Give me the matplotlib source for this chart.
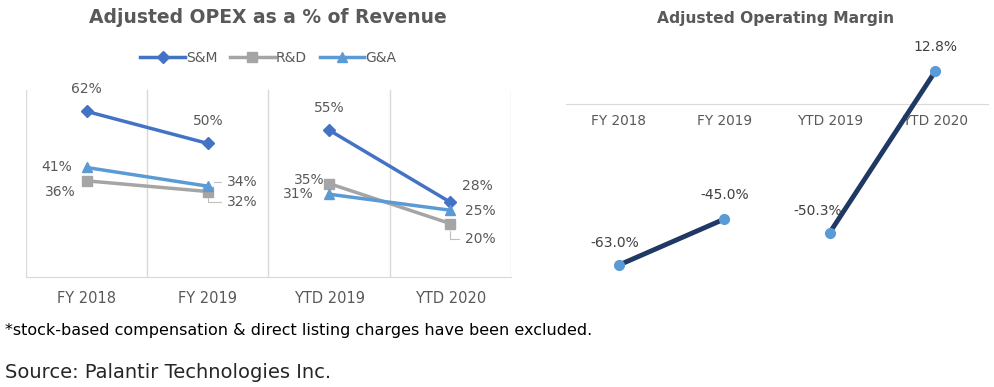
import numpy as np
import matplotlib
matplotlib.use('Agg')
import matplotlib.pyplot as plt

plt.rcParams['font.family'] = ['DejaVu Sans']

# data
periods = ['FY 2018', 'FY 2019', 'YTD 2019', 'YTD 2020']
sm = [62, 50, 55, 28]
rd = [36, 32, 35, 20]
ga = [41, 34, 31, 25]
margin = [-63.0, -45.0, -50.3, 12.8]

txt = '#595959'
grid = '#D9D9D9'

fig = plt.figure(figsize=(9.95, 3.87), dpi=100)

# ---------- left chart ----------
ax = fig.add_axes([0.0261, 0.2842, 0.4874, 0.4832])
x = np.arange(len(periods))
series = [('S&M', sm, '#4472C4', 'D', 6),
          ('R&D', rd, '#A5A5A5', 's', 7),
          ('G&A', ga, '#5B9BD5', '^', 7)]
for name, vals, col, mk, ms in series:
    # two separate pairs: full years, then year-to-date
    ax.plot(x[:2], vals[:2], color=col, lw=2.5, marker=mk, ms=ms, label=name, zorder=3)
    ax.plot(x[2:], vals[2:], color=col, lw=2.5, marker=mk, ms=ms, zorder=3)

ax.set_xlim(-0.5, 3.5)
ax.set_ylim(0, 70)
for b in [-0.5, 0.5, 1.5, 2.5, 3.5]:
    ax.axvline(b, color=grid, lw=1, zorder=1)
for s in ['top', 'left', 'right']:
    ax.spines[s].set_visible(False)
ax.spines['bottom'].set_color(grid)
ax.set_yticks([])
ax.set_xticks(x)
ax.set_xticklabels(periods, fontsize=10.5, color=txt)
ax.tick_params(axis='x', length=0, pad=10)

# data labels: (series, x index, dx, dy, leader line) in pixels
left_labels = [
    (sm, 0, 0, 22, False), (sm, 1, 0, 22, False),
    (sm, 2, 0, 22, False), (sm, 3, 27, 16, False),
    (ga, 0, -30, 0, False), (ga, 1, 34, 4, True),
    (ga, 2, -31, 0, False), (ga, 3, 30, -1, False),
    (rd, 0, -26, -11, False), (rd, 1, 34, -10, True),
    (rd, 2, -20, 4, False), (rd, 3, 30, -15, True),
]
for vals, i, dx, dy, lead in left_labels:
    ap = dict(arrowstyle='-', color='#BFBFBF', lw=0.8,
              connectionstyle='angle,angleA=0,angleB=90', shrinkA=2, shrinkB=5) if lead else None
    ax.annotate(f'{vals[i]}%', (i, vals[i]), xytext=(dx, dy), textcoords='offset pixels',
                ha='center', va='center', fontsize=10, color=txt, arrowprops=ap, zorder=4)

leg = ax.legend(loc='center', bbox_to_anchor=(0.5, 1.17), ncol=3, frameon=False,
                fontsize=10, handlelength=3.2, columnspacing=0.9, handletextpad=0.1,
                labelcolor=txt)

fig.text(0.2693, 0.955, 'Adjusted OPEX as a % of Revenue', ha='center', va='center',
         fontsize=13.5, fontweight='bold', color=txt)

# ---------- right chart ----------
ax2 = fig.add_axes([0.5688, 0.2687, 0.4241, 0.5943])
ax2.plot(x[:2], margin[:2], color='#203864', lw=3.5, zorder=3,
         marker='o', ms=7, mfc='#5B9BD5', mec='#5B9BD5')
ax2.plot(x[2:], margin[2:], color='#203864', lw=3.5, zorder=3,
         marker='o', ms=7, mfc='#5B9BD5', mec='#5B9BD5')
ax2.set_xlim(-0.5, 3.5)
ax2.set_ylim(-70, 20)
for s in ['top', 'left', 'right']:
    ax2.spines[s].set_visible(False)
ax2.spines['bottom'].set_position(('data', 0))
ax2.spines['bottom'].set_color(grid)
ax2.spines['bottom'].set_zorder(1)
ax2.set_yticks([])
ax2.set_xticks(x)
ax2.set_xticklabels(periods, fontsize=9.8, color=txt)
ax2.tick_params(axis='x', length=0, pad=7)

right_offsets = [(-4, 22), (0, 24), (-12, 22), (0, 24)]
for i, (dx, dy) in enumerate(right_offsets):
    ax2.annotate(f'{margin[i]:.1f}%', (i, margin[i]), xytext=(dx, dy), textcoords='offset pixels',
                 ha='center', va='center', fontsize=10, color='#404040', zorder=4)

fig.text(0.779, 0.951, 'Adjusted Operating Margin', ha='center', va='center',
         fontsize=11.2, fontweight='bold', color=txt)

# ---------- footnotes ----------
fig.text(0.005, 0.147, '*stock-based compensation & direct listing charges have been excluded.',
         ha='left', va='center', fontsize=11.5, color='black')
fig.text(0.005, 0.038, 'Source: Palantir Technologies Inc.',
         ha='left', va='center', fontsize=14, color='#262626')

fig.savefig('out.png', dpi=100)
